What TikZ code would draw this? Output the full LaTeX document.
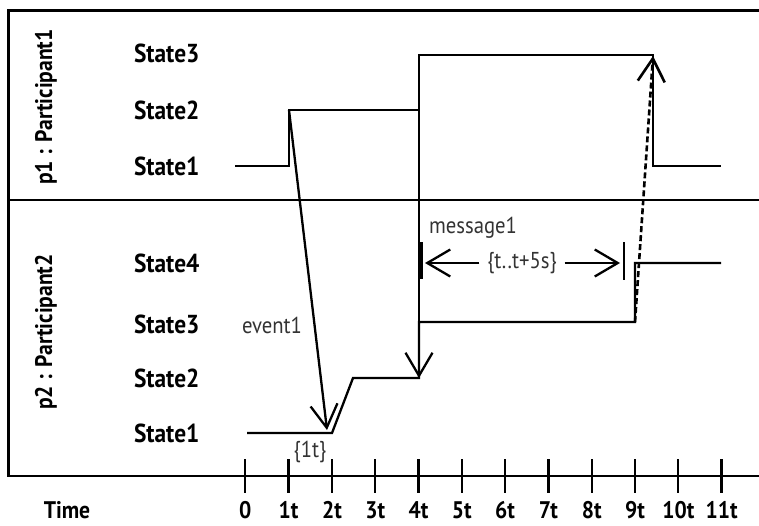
\documentclass[tikz,border=0pt]{standalone}
\usepackage{fontspec}
\setmainfont{PT Sans}[FakeStretch=0.9]
\usetikzlibrary{arrows.meta}
\begin{document}
\begin{tikzpicture}[x=1pt,y=-1pt,line width=2pt,
  bl/.style={font=\fontsize{26}{26}\selectfont\bfseries,inner sep=0pt},
  pl/.style={font=\fontsize{24}{24}\selectfont\bfseries,inner sep=0pt,rotate=90},
  tl/.style={font=\fontsize{24}{24}\selectfont\bfseries,inner sep=0pt},
  rl/.style={font=\fontsize{23}{23}\selectfont,inner sep=0pt,text=black!80},
  barb/.tip={Straight Barb[length=23pt,width=27pt]},
  frame/.style={line width=2.6pt},
  sig/.style={line width=2.3pt,line join=miter},
  msg/.style={line width=2.3pt,-barb}]
\useasboundingbox (0,0) rectangle (759,525);
% frame
\coordinate (ftl) at (8.5,10.5);
\coordinate (ftr) at (759,10.5);
\coordinate (fbl) at (8.5,476);
\coordinate (fbr) at (759,476);
\coordinate (fml) at (8.5,200);
\coordinate (fmr) at (759,200);
\draw[frame] (ftr) -- (ftl) -- (fbl) -- (fbr);
\draw[frame] (fml) -- (fmr);
% lifeline names
\node[pl] (p1) at (46,107) {p1 : Participant1};
\node[pl] (p2) at (46,332) {p2 : Participant2};
% state labels
\node[bl,anchor=west] (a3) at (133,53) {State3};
\node[bl,anchor=west] (a2) at (133,110) {State2};
\node[bl,anchor=west] (a1) at (133,166) {State1};
\node[bl,anchor=west] (b4) at (133,263) {State4};
\node[bl,anchor=west] (b3) at (133,324) {State3};
\node[bl,anchor=west] (b2) at (133,378) {State2};
\node[bl,anchor=west] (b1) at (133,433) {State1};
% time axis
\node[tl] (time) at (67,510) {Time};
\foreach \i/\t in {0/0,1/1t,2/2t,3/3t,4/4t,5/5t,6/6t,7/7t,8/8t,9/9t,10/10t,11/11t}{
  \coordinate (ta\i) at ({245.3+43.3*\i},459);
  \coordinate (tb\i) at ({245.3+43.3*\i},493);
  \draw[line width=2.3pt] (ta\i) -- (tb\i);
  \node[tl] (tl\i) at ({245.3+43.3*\i},510) {\t};
}
% p1 timeline
\coordinate (p1a) at (235,166);
\coordinate (p1b) at (289,166);
\coordinate (p1c) at (289,110);
\coordinate (p1d) at (419,110);
\coordinate (p1e) at (419,55);
\coordinate (p1f) at (653,55);
\coordinate (p1g) at (653,166);
\coordinate (p1h) at (721,166);
\draw[sig] (p1a) -- (p1b) -- (p1c) -- (p1d) -- (p1e) -- (p1f) -- (p1g) -- (p1h);
% p2 timeline
\coordinate (p2a) at (247,433);
\coordinate (p2b) at (332,433);
\coordinate (p2c) at (353,378);
\coordinate (p2d) at (419,378);
\coordinate (p2e) at (419,322);
\coordinate (p2f) at (635,322);
\coordinate (p2g) at (635,263);
\coordinate (p2h) at (721,263);
\draw[sig] (p2a) -- (p2b) -- (p2c) -- (p2d) -- (p2e) -- (p2f) -- (p2g) -- (p2h);
% messages
\coordinate (ev1tip) at (327,430);
\draw[msg] (p1c) -- (ev1tip);
\draw[msg] (p1d) -- (p2d);
\coordinate (dtip) at (653,56);
\draw[msg,line width=2.6pt,dash pattern=on 6pt off 3pt] (p2f) -- (dtip);
% labels
\node[rl] (ev1) at (272,325) {event1};
\node[rl] (one) at (310,452) {\{1t\}};
\node[rl,anchor=west] (m1) at (428,228) {message1};
% interval
\coordinate (il1) at (421,242);
\coordinate (il2) at (421,279);
\coordinate (ir1) at (624,242);
\coordinate (ir2) at (624,280);
\draw[line width=3.2pt] (il1) -- (il2);
\draw[line width=2.2pt] (ir1) -- (ir2);
\node[rl] (iv) at (522,263) {\{t..t+5s\}};
\coordinate (ilt) at (425,263);
\coordinate (irt) at (620,263);
\draw[msg,shorten <=7pt] (iv.west) -- (ilt);
\draw[msg,shorten <=7pt] (iv.east) -- (irt);
\end{tikzpicture}
\end{document}
